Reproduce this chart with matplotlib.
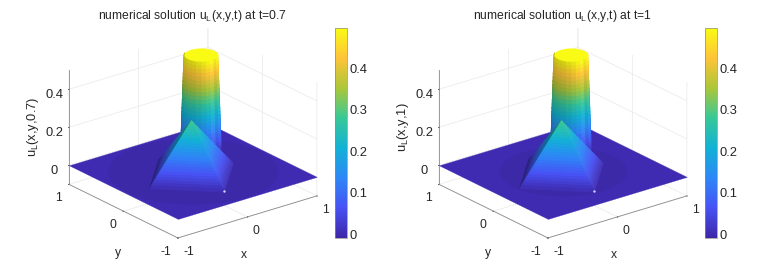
import numpy as np
import matplotlib
matplotlib.use('Agg')
from matplotlib import pyplot as plt
from matplotlib.colors import LinearSegmentedColormap, Normalize
from matplotlib.cm import ScalarMappable
from mpl_toolkits.mplot3d.art3d import Poly3DCollection

plt.rcParams['font.family'] = ['Liberation Sans', 'DejaVu Sans']
plt.rcParams['mathtext.fontset'] = 'custom'
plt.rcParams['mathtext.rm'] = 'Liberation Sans'

# values
titles = ['numerical solution u$_{\\mathrm{L}}$(x,y,t) at t=0.7',
          'numerical solution u$_{\\mathrm{L}}$(x,y,t) at t=1']
zlabels = ['u$_{\\mathrm{L}}$(x,y,0.7)', 'u$_{\\mathrm{L}}$(x,y,1)']
ring_radius = [0.96, 0.72]
x_ticks = [-1, 0, 1]
y_ticks = [-1, 0, 1]
z_ticks = [0, 0.2, 0.4]
cbar_ticks = [0, 0.1, 0.2, 0.3, 0.4]
u_min, u_max = -0.0085, 0.4975

# cylinder: centre, then height against radius
cyl_x, cyl_y = 0.46, 0.44
cyl_u = [0, .02, .04, .06, .08, .1, .12, .14, .16, .18, .2, .22, .24, .26, .28,
         .3, .32, .34, .36, .38, .4, .42, .44, .46, .48, .5]
cyl_r = [.23, .228, .227, .225, .224, .222, .22, .219, .217, .216, .214, .213, .211,
         .21, .208, .206, .205, .203, .202, .2, .199, .197, .196, .194, .192, .19]
cyl_angle = [127, 142, 157, 172, 187, 202, 217, 232, 247, 262, 277, 292, 307, 322, 337]
cyl_shade = [.74, .76, .78, .8, .82, .84, .88, .93, .98, 1.05, .95, 1.03, 1.0, .98]

# pyramid: centre, then height against distance from centre (diamond)
pyr_x, pyr_y = -0.1, -0.1
pyr_d = [.6, .575, .55, .525, .5, .475, .45, .425, .4, .375, .35, .325, .3, .275, .25,
         .225, .2, .175, .15, .125, .1, .075, .05, .025, 0]
pyr_u = [0, .012, .024, .036, .048, .06, .072, .084, .096, .108, .12, .133, .145, .157,
         .169, .181, .193, .205, .217, .229, .241, .253, .265, .277, .289]
pyr_angle = [90, 180, 270, 360]
pyr_shade = [.66, 1.0, 1.04]
spot_x, spot_y, spot_u = [-0.09], [-0.68], [0.0]

parula = [(.2422, .1504, .6603), (.2810, .3228, .9579), (.1786, .5289, .9682),
          (.0689, .6948, .8394), (.2161, .7843, .5923), (.6720, .7793, .2227),
          (.9970, .7659, .2199), (.9769, .9839, .0805)]
cmap = LinearSegmentedColormap.from_list('parula', parula, N=256)
norm = Normalize(u_min, u_max)
text_col = '#262626'
line_col = '#8c8c8c'
fs = 8.7


def shaded(u, k):
    c = np.array(cmap(norm(u))[:3])
    if k <= 1:
        return tuple(c * k)
    return tuple(c + (1 - c) * (k - 1))


def strip(ax, x0, y0, rad, u, angle, shade, zorder):
    polys, cols = [], []
    a = np.radians(angle)
    for i in range(len(u) - 1):
        for j in range(len(a) - 1):
            p = []
            for r, h, t in [(rad[i], u[i], a[j]), (rad[i], u[i], a[j + 1]),
                            (rad[i + 1], u[i + 1], a[j + 1]), (rad[i + 1], u[i + 1], a[j])]:
                p.append((x0 + r * np.cos(t), y0 + r * np.sin(t), h))
            polys.append(p)
            cols.append(shaded((u[i] + u[i + 1]) / 2, shade[j]))
    coll = Poly3DCollection(polys, facecolors=cols, edgecolors=cols, linewidths=0.7, zorder=zorder)
    ax.add_collection3d(coll, autolim=False)


def flat(ax, pts, col, zorder):
    coll = Poly3DCollection([pts], facecolors=[col], edgecolors=[col], linewidths=0.2, zorder=zorder)
    ax.add_collection3d(coll, autolim=False)


fig = plt.figure(figsize=(7.68, 2.69), dpi=100)
W, H = 768.0, 269.0
S = 270.5

for n, left in enumerate([54, 424]):
    ax = fig.add_axes([left / W, -3 / H, S / W, S / H], projection='3d', proj_type='ortho')
    ax.computed_zorder = False
    ax.patch.set_alpha(0)
    ax.view_init(elev=22.7, azim=-128.1)
    ax.set_box_aspect((2, 2, 1.4))
    ax.set_xlim(-1, 1)
    ax.set_ylim(-1, 1)
    ax.set_zlim(-0.1, 0.5)
    ax.set_xticks(x_ticks)
    ax.set_yticks(y_ticks)
    ax.set_zticks(z_ticks)
    ax.set_xticklabels([str(v) for v in x_ticks], ha='left')
    ax.set_yticklabels([str(v) for v in y_ticks], ha='right')
    ax.set_zticklabels([str(v) for v in z_ticks])
    for axis in (ax.xaxis, ax.yaxis, ax.zaxis):
        axis.set_pane_color((1, 1, 1, 0))
        axis._axinfo['grid'].update(color='#ececec', linewidth=0.6)
        axis._axinfo['axisline']['color'] = line_col
        axis.line.set_color(line_col)
        axis.line.set_linewidth(0.6)
        axis._axinfo['tick'].update(inward_factor=0.05, outward_factor=0.0, linewidth={True: 0.5, False: 0.5}, color=line_col)
    ax.tick_params(labelsize=fs, colors=text_col, pad=-3)
    ax.zaxis.set_ticks_position('upper')
    ax.tick_params(axis='z', labelsize=fs + 0.6, pad=-2)

    # base plane and the faint ring round the pulse
    plane_col = shaded(0, 1.0)
    flat(ax, [(-1, -1, 0), (1, -1, 0), (1, 1, 0), (-1, 1, 0)], plane_col, 2)
    t = np.radians(np.arange(0, 360, 6))
    flat(ax, [(ring_radius[n] * np.cos(v), ring_radius[n] * np.sin(v), 0) for v in t],
         shaded(0, 0.95), 3)

    strip(ax, cyl_x, cyl_y, cyl_r, cyl_u, cyl_angle, cyl_shade, 4)
    flat(ax, [(cyl_x + cyl_r[-1] * np.cos(v), cyl_y + cyl_r[-1] * np.sin(v), cyl_u[-1]) for v in t],
         shaded(cyl_u[-1], 1.0), 5)
    strip(ax, pyr_x, pyr_y, pyr_d, pyr_u, pyr_angle, pyr_shade, 6)
    ax.scatter(spot_x, spot_y, spot_u, s=3, c='#d2d2ff', linewidths=0, zorder=7, depthshade=False)

    dx = 370 * n
    fig.text((192.5 + dx) / W, 1 - 16.5 / H, titles[n], ha='center', va='center', fontsize=fs, color=text_col)
    fig.text((244 + dx) / W, 1 - 255 / H, 'x', ha='center', va='center', fontsize=fs, color=text_col)
    fig.text((118 + dx) / W, 1 - 253 / H, 'y', ha='center', va='center', fontsize=fs, color=text_col)
    fig.text((33 + dx) / W, 1 - 127 / H, zlabels[n], ha='center', va='center', rotation=90, fontsize=fs + 0.6, color=text_col)

    cax = fig.add_axes([(335 + dx) / W, 1 - 238 / H, 12 / W, 210 / H])
    cb = fig.colorbar(ScalarMappable(norm=norm, cmap=cmap), cax=cax)
    cb.set_ticks(cbar_ticks)
    cb.set_ticklabels([str(v) for v in cbar_ticks])
    cb.ax.tick_params(labelsize=fs + 0.6, colors=text_col, length=0, pad=2)
    cb.outline.set_edgecolor(line_col)
    cb.outline.set_linewidth(0.5)

fig.savefig('out.png', dpi=100)
